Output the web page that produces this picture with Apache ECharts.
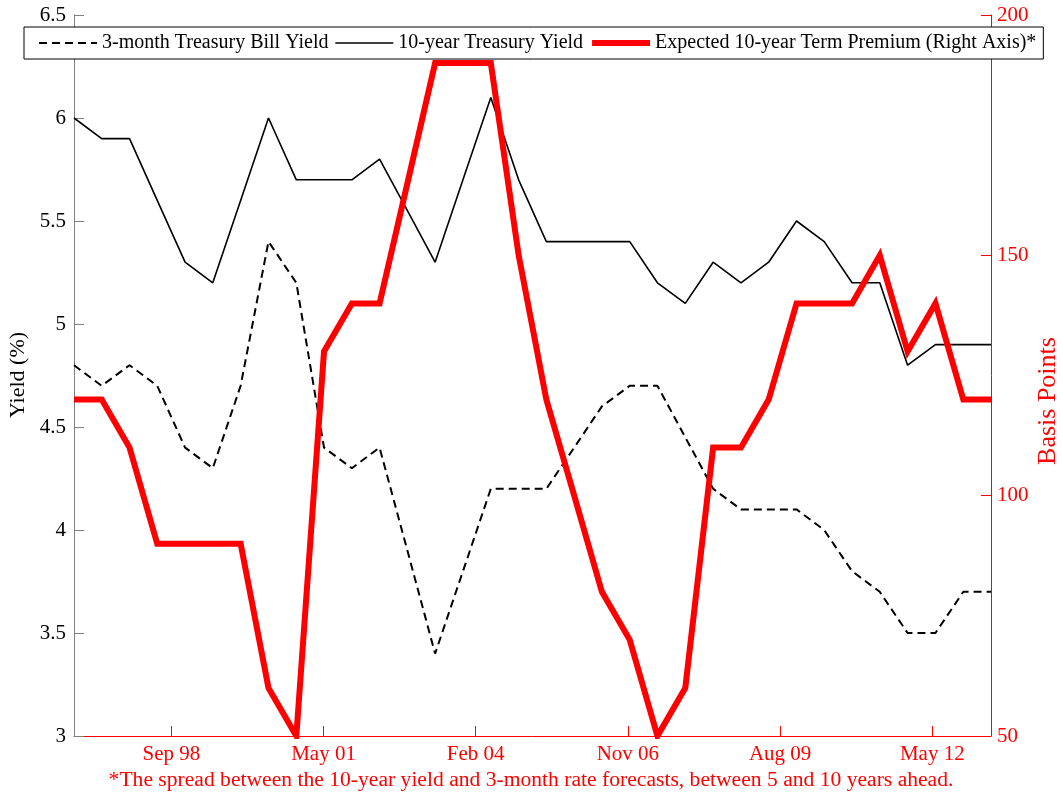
<!DOCTYPE html>
<html>
<head>
<meta charset="utf-8">
<script src="https://cdn.jsdelivr.net/npm/echarts@6/dist/echarts.min.js"></script>
<style>
  html, body { margin: 0; padding: 0; background: #fff; }
  #chart { width: 1062px; height: 796px; }
</style>
</head>
<body>
<div id="chart"></div>
<script>
// Survey dates (semi-annual), first of month
const surveyDates = [
  '1996-12-01', '1997-06-01', '1997-12-01', '1998-06-01', '1998-12-01', '1999-06-01',
  '1999-12-01', '2000-06-01', '2000-12-01', '2001-06-01', '2001-12-01', '2002-06-01',
  '2002-12-01', '2003-06-01', '2003-12-01', '2004-06-01', '2004-12-01', '2005-06-01',
  '2005-12-01', '2006-06-01', '2006-12-01', '2007-06-01', '2007-12-01', '2008-06-01',
  '2008-12-01', '2009-06-01', '2009-12-01', '2010-06-01', '2010-12-01', '2011-06-01',
  '2011-12-01', '2012-06-01', '2012-12-01', '2013-06-01'
];

// 3-month Treasury bill yield forecast (%)
const billYield = [
  4.8, 4.7, 4.8, 4.7, 4.4, 4.3, 4.7, 5.4, 5.2, 4.4, 4.3, 4.4,
  3.9, 3.4, 3.8, 4.2, 4.2, 4.2, 4.4, 4.6, 4.7, 4.7, 4.45, 4.2,
  4.1, 4.1, 4.1, 4.0, 3.8, 3.7, 3.5, 3.5, 3.7, 3.7
];

// 10-year Treasury yield forecast (%)
const tenYearYield = [
  6.0, 5.9, 5.9, 5.6, 5.3, 5.2, 5.6, 6.0, 5.7, 5.7, 5.7, 5.8,
  5.55, 5.3, 5.7, 6.1, 5.7, 5.4, 5.4, 5.4, 5.4, 5.2, 5.1, 5.3,
  5.2, 5.3, 5.5, 5.4, 5.2, 5.2, 4.8, 4.9, 4.9, 4.9
];

// Expected 10-year term premium (basis points, right axis)
const termPremium = [
  120, 120, 110, 90, 90, 90, 90, 60, 50, 130, 140, 140,
  165, 190, 190, 190, 150, 120, 100, 80, 70, 50, 60, 110,
  110, 120, 140, 140, 140, 150, 130, 140, 120, 120
];

// Date axis ticks (every 1000 days) and their labels
const tickDates = ['1998-09-02', '2001-05-29', '2004-02-23', '2006-11-19', '2009-08-15', '2012-05-11'];
const tickLabels = ['Sep 98', 'May 01', 'Feb 04', 'Nov 06', 'Aug 09', 'May 12'];

const seriesNames = [
  '3-month Treasury Bill Yield',
  '10-year Treasury Yield',
  'Expected 10-year Term Premium (Right Axis)*'
];
const footnote = '*The spread between the 10-year yield and 3-month rate forecasts, between 5 and 10 years ahead.';

const FONT = '"Liberation Serif", "Times New Roman", serif';
const RED = '#ff0000';

const t = s => Date.parse(s + 'T00:00:00Z');
const xs = surveyDates.map(t);
const tickValues = tickDates.map(t);
const labelFor = {};
tickValues.forEach((v, i) => { labelFor[v] = tickLabels[i]; });
const pair = arr => arr.map((v, i) => [xs[i], v]);

const lineStyles = [
  { color: '#000', width: 2, type: [8, 5] },
  { color: '#000', width: 1.6 },
  { color: RED, width: 6, join: 'miter' }
];

const chart = echarts.init(document.getElementById('chart'), null, { renderer: 'canvas' });

chart.setOption({
  animation: false,
  backgroundColor: '#fff',
  textStyle: { fontFamily: FONT },
  grid: { left: 74, right: 71, top: 15, bottom: 60, containLabel: false },
  legend: {
    left: 24,
    top: 27,
    padding: [6, 7, 6, 14],
    itemGap: 6,
    itemWidth: 58,
    itemHeight: 14,
    backgroundColor: '#fff',
    borderColor: '#000',
    borderWidth: 1,
    borderRadius: 0,
    z: 10,
    textStyle: { fontFamily: FONT, fontSize: 20, color: '#000' },
    data: seriesNames.map((name, i) => ({
      name,
      itemStyle: { opacity: 0 },
      lineStyle: lineStyles[i]
    }))
  },
  xAxis: {
    type: 'value',
    min: xs[0],
    max: xs[xs.length - 1],
    splitLine: { show: false },
    axisLine: { show: true, lineStyle: { color: RED, width: 1 } },
    axisTick: { show: true, inside: true, length: 10, customValues: tickValues, lineStyle: { color: RED } },
    axisLabel: {
      customValues: tickValues,
      margin: 8,
      color: RED,
      fontFamily: FONT,
      fontSize: 21,
      formatter: v => labelFor[v] || ''
    }
  },
  yAxis: [
    {
      type: 'value',
      min: 3,
      max: 6.5,
      interval: 0.5,
      splitLine: { show: false },
      axisLine: { show: true, lineStyle: { color: '#808080', width: 1 } },
      axisTick: { show: true, inside: true, length: 10, lineStyle: { color: '#808080' } },
      axisLabel: { color: '#000', fontFamily: FONT, fontSize: 21, margin: 8 }
    },
    {
      type: 'value',
      position: 'right',
      min: 50,
      max: 200,
      interval: 50,
      splitLine: { show: false },
      axisLine: { show: true, lineStyle: { color: RED, width: 1 } },
      axisTick: { show: true, inside: true, length: 10, lineStyle: { color: RED } },
      axisLabel: { color: RED, fontFamily: FONT, fontSize: 21, margin: 6 }
    }
  ],
  graphic: [
    {
      type: 'text',
      x: 18, y: 375,
      rotation: Math.PI / 2,
      style: { text: 'Yield (%)', fill: '#000', font: '22px ' + FONT, textAlign: 'center', textVerticalAlign: 'middle' }
    },
    {
      type: 'text',
      x: 1048, y: 401,
      rotation: Math.PI / 2,
      style: { text: 'Basis Points', fill: RED, font: '26px ' + FONT, textAlign: 'center', textVerticalAlign: 'middle' }
    },
    {
      type: 'text',
      x: 531, y: 780,
      style: { text: footnote, fill: RED, font: '21.6px ' + FONT, textAlign: 'center', textVerticalAlign: 'middle' }
    }
  ],
  series: [
    {
      name: seriesNames[0],
      type: 'line',
      yAxisIndex: 0,
      data: pair(billYield),
      symbol: 'none',
      z: 3,
      lineStyle: lineStyles[0],
      itemStyle: { color: '#000' }
    },
    {
      name: seriesNames[1],
      type: 'line',
      yAxisIndex: 0,
      data: pair(tenYearYield),
      symbol: 'none',
      z: 3,
      lineStyle: lineStyles[1],
      itemStyle: { color: '#000' }
    },
    {
      name: seriesNames[2],
      type: 'line',
      yAxisIndex: 1,
      data: pair(termPremium),
      symbol: 'none',
      z: 4,
      lineStyle: lineStyles[2],
      itemStyle: { color: RED }
    }
  ]
});
</script>
</body>
</html>
